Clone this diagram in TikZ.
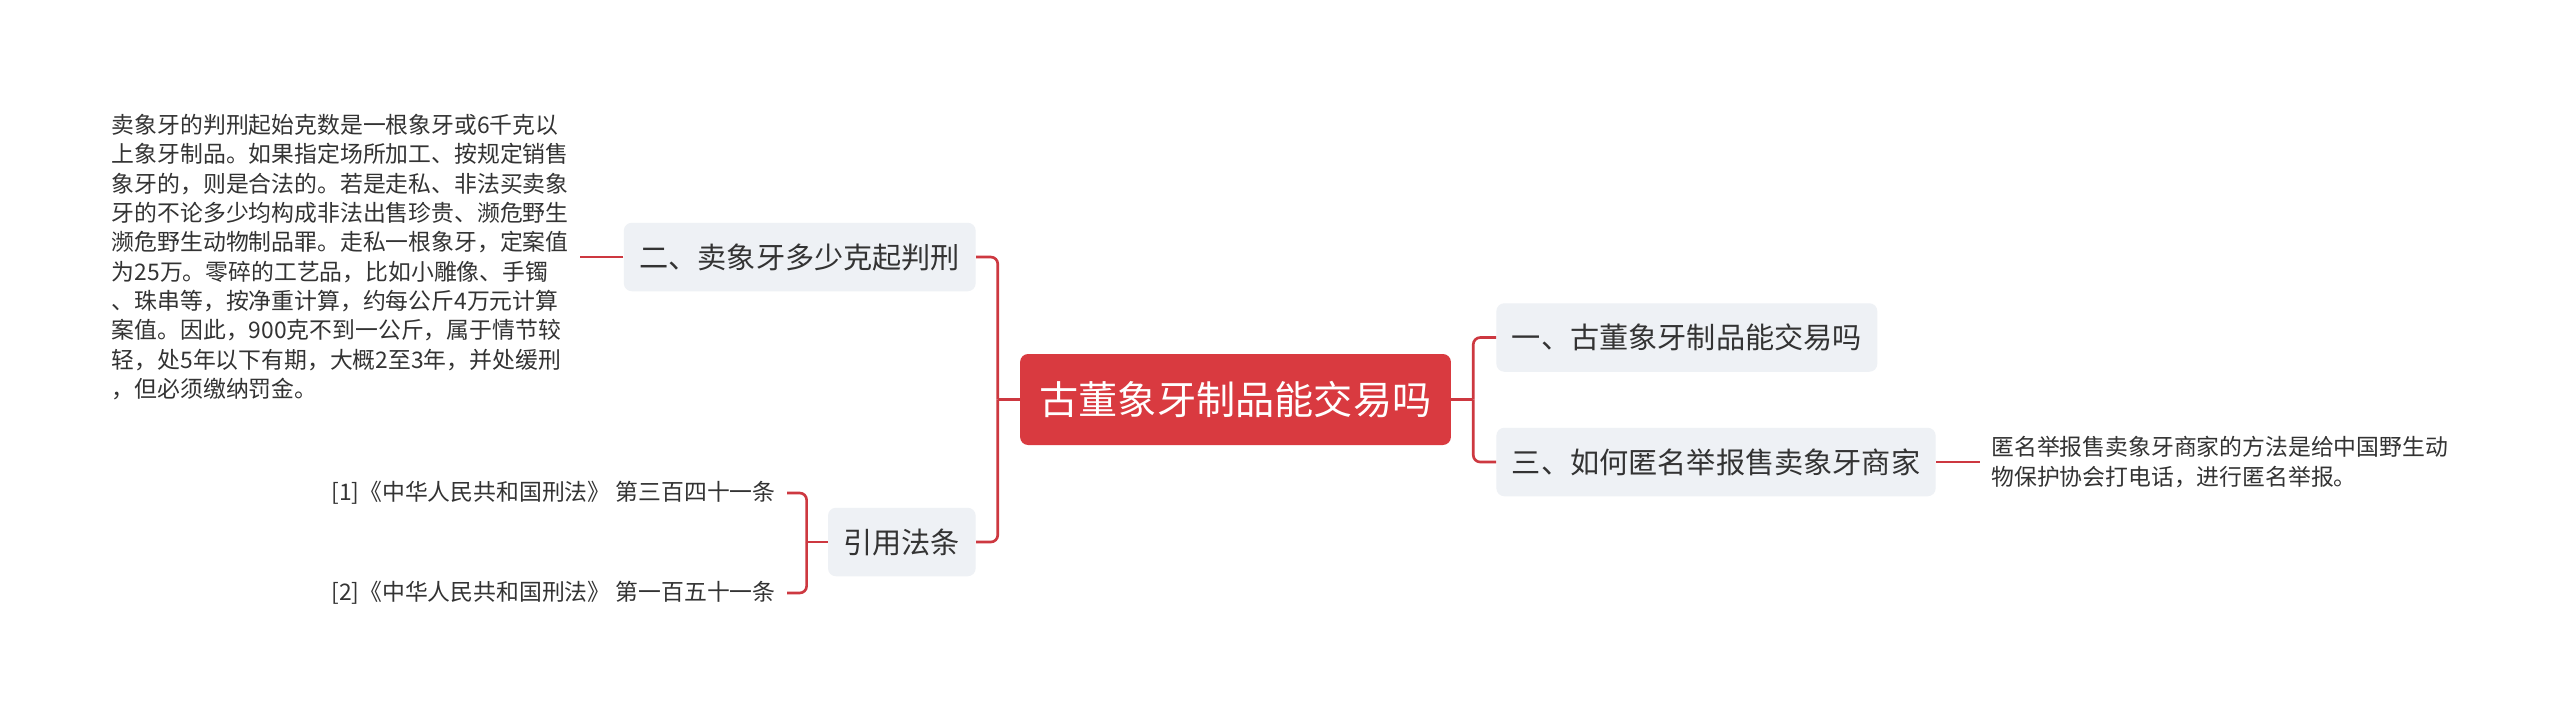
\documentclass[tikz,border=0pt]{standalone}
\usepackage{fontspec}
\setmainfont{Noto Sans CJK SC}
\usetikzlibrary{positioning,calc}
\definecolor{zhuhong}{HTML}{D93A40}
\definecolor{xianhong}{HTML}{CD3840}
\definecolor{kuanghui}{HTML}{EEF1F5}
\definecolor{zihei}{HTML}{333333}
\tikzset{
  zhuti/.style={fill=zhuhong, text=white, rounded corners=0.16cm, inner xsep=0.39cm, minimum height=1.82cm, font=\fontsize{22.3pt}{26pt}\selectfont},
  fenzhi/.style={fill=kuanghui, text=zihei, rounded corners=0.16cm, inner xsep=0.31cm, minimum height=1.37cm, font=\fontsize{16.6pt}{20pt}\selectfont},
  yezi/.style={text=zihei, inner xsep=0.22cm, inner ysep=0pt, align=left, font=\fontsize{13pt}{16.7pt}\selectfont},
  lianxian/.style={draw=xianhong, line width=1.5pt, rounded corners=0.14cm}
}
\begin{document}
\begin{tikzpicture}[x=0.02cm,y=-0.02cm]
\path[fill=white] (0,0) rectangle (2560,718);
\useasboundingbox (0,0) rectangle (2560,718);
\node[zhuti] (gen) at (1235.5,399.5) {古董象牙制品能交易吗};
\node[fenzhi, anchor=east] (er) at (976,257) {二、卖象牙多少克起判刑};
\node[fenzhi, anchor=east] (yin) at (976,542) {引用法条};
\node[fenzhi, anchor=west] (yi) at (1496,337.5) {一、古董象牙制品能交易吗};
\node[fenzhi, anchor=west] (san) at (1496,462) {三、如何匿名举报售卖象牙商家};

\node[yezi, anchor=east] (erye) at (580,257) {卖象牙的判刑起始克数是一根象牙或6千克以\\上象牙制品。如果指定场所加工、按规定销售\\象牙的，则是合法的。若是走私、非法买卖象\\牙的不论多少均构成非法出售珍贵、濒危野生\\濒危野生动物制品罪。走私一根象牙，定案值\\为25万。零碎的工艺品，比如小雕像、手镯\\、珠串等，按净重计算，约每公斤4万元计算\\案值。因此，900克不到一公斤，属于情节较\\轻，处5年以下有期，大概2至3年，并处缓刑\\，但必须缴纳罚金。};
\node[yezi, anchor=east] (tiao1) at (787,493) {[1]《中华人民共和国刑法》 第三百四十一条};
\node[yezi, anchor=east] (tiao2) at (787,593) {[2]《中华人民共和国刑法》 第一百五十一条};
\node[yezi, anchor=west] (sanye) at (1980,462) {匿名举报售卖象牙商家的方法是给中国野生动\\物保护协会打电话，进行匿名举报。};

\path (gen.west) ++(-22,0) coordinate (zuo);
\path (gen.east) ++(22,0) coordinate (you);
\path (yin.west) ++(-21,0) coordinate (yinzuo);
\draw[lianxian] (gen.west) -- (zuo);
\draw[lianxian] (zuo) |- (er.east);
\draw[lianxian] (zuo) |- (yin.east);
\draw[lianxian] (gen.east) -- (you);
\draw[lianxian] (you) |- (yi.west);
\draw[lianxian] (you) |- (san.west);
\draw[lianxian] (er.west) -- (erye.east);
\draw[lianxian] (yin.west) -- (yinzuo);
\draw[lianxian] (yinzuo) |- (tiao1.east);
\draw[lianxian] (yinzuo) |- (tiao2.east);
\draw[lianxian] (san.east) -- (sanye.west);
\end{tikzpicture}
\end{document}
